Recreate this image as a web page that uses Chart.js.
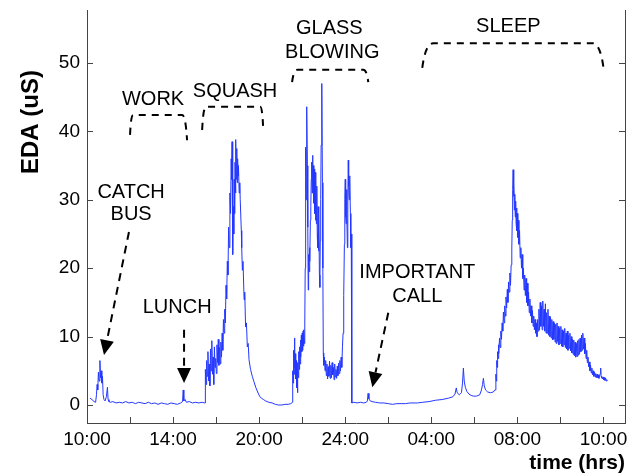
<!DOCTYPE html>
<html><head><meta charset="utf-8">
<script src="https://cdn.jsdelivr.net/npm/chart.js@4/dist/chart.umd.min.js"></script>
<style>html,body{margin:0;padding:0;background:#fff}canvas{display:block}</style>
</head><body>
<canvas id="c" width="635" height="475"></canvas>
<script>
// ---- data: [hours since 10:00, EDA (uS)] ----
const morningEDA = [[0.14,1.0],[0.23,0.8],[0.33,0.5],[0.40,0.4],[0.44,1.5],[0.47,3.0],[0.50,2.2],[0.53,4.8],[0.56,3.5],[0.60,6.5],[0.63,4.0],[0.66,5.0],[0.69,3.2],[0.72,4.2],[0.75,1.5],[0.79,0.8],[0.84,0.6],[0.90,1.2],[0.95,2.6],[0.98,0.8],[1.02,0.5],[1.10,0.4],[1.2,0.5],[1.35,0.3],[1.5,0.4],[1.65,0.3],[1.8,0.5],[1.95,0.3],[2.1,0.4],[2.25,0.2],[2.4,0.4],[2.55,0.3],[2.7,0.2],[2.85,0.4],[3.0,0.2],[3.15,0.3],[3.3,0.1],[3.45,0.3],[3.6,0.2],[3.75,0.1],[3.9,0.3],[4.05,0.2],[4.2,0.1],[4.35,0.3],[4.44,0.5],[4.47,2.2],[4.50,0.6],[4.56,0.8],[4.62,0.4],[4.75,0.5],[4.9,0.3],[5.05,0.4],[5.2,0.3],[5.35,0.4],[5.47,0.3]];
const squashEDA = [[5.49,0.3],[5.50,5.2],[5.53,3.0],[5.56,6.5],[5.59,4.2],[5.62,7.8],[5.65,3.5],[5.68,6.0],[5.71,2.8],[5.74,8.2],[5.77,5.0],[5.80,9.4],[5.83,4.5],[5.86,7.0],[5.89,3.0],[5.92,8.5],[5.95,5.5],[5.98,6.8],[6.01,4.6],[6.04,8.8],[6.07,6.2],[6.10,9.6],[6.13,5.8],[6.16,8.4],[6.19,6.0],[6.22,9.2],[6.25,7.0],[6.28,10.5],[6.31,8.0],[6.34,12.5],[6.37,10.5],[6.40,14.0],[6.43,12.0],[6.46,17.5],[6.49,15.5],[6.52,21.0],[6.55,19.0],[6.58,26.0],[6.61,23.0],[6.64,31.0],[6.67,28.0],[6.70,36.0],[6.72,33.0],[6.74,38.5],[6.76,30.0],[6.78,22.0],[6.80,29.0],[6.82,25.0],[6.84,33.0],[6.86,28.0],[6.88,35.5],[6.90,31.0],[6.92,38.8],[6.94,33.0],[6.96,37.5],[6.98,32.5],[7.00,36.0],[7.02,33.5],[7.04,35.0],[7.07,31.0],[7.10,32.5],[7.12,30.0],[7.17,25.5],[7.19,23.0],[7.22,19.7],[7.25,21.0],[7.30,15.4],[7.33,16.5],[7.37,11.4],[7.41,12.0],[7.45,8.5],[7.49,9.0],[7.53,6.6],[7.60,5.2],[7.68,4.2],[7.76,3.4],[7.84,2.6],[7.93,1.9],[8.02,1.3],[8.10,1.0],[8.20,0.8],[8.30,0.6],[8.45,0.4],[8.60,0.3],[8.75,0.1],[8.90,0.0],[9.05,0.0],[9.20,0.1],[9.35,0.1],[9.47,0.2]];
const glassEDA = [[9.52,0.3],[9.55,0.4],[9.56,5.0],[9.58,3.2],[9.60,8.0],[9.62,4.5],[9.64,9.8],[9.66,5.5],[9.68,7.5],[9.70,3.8],[9.72,6.5],[9.74,2.5],[9.76,5.5],[9.78,1.8],[9.80,6.2],[9.82,4.0],[9.84,7.8],[9.86,5.2],[9.88,8.5],[9.90,6.0],[9.92,9.5],[9.94,7.0],[9.96,10.2],[9.98,7.8],[10.00,10.5],[10.02,8.0],[10.04,10.8],[10.06,8.6],[10.08,11.0],[10.10,9.0],[10.12,12.0],[10.14,20.0],[10.16,37.7],[10.18,30.0],[10.20,41.0],[10.22,43.6],[10.24,35.0],[10.26,26.0],[10.28,16.8],[10.30,22.0],[10.32,19.5],[10.34,23.0],[10.36,21.0],[10.38,27.0],[10.40,29.0],[10.42,33.0],[10.44,35.5],[10.46,31.0],[10.48,36.5],[10.50,31.0],[10.52,35.0],[10.54,29.5],[10.56,34.5],[10.58,28.0],[10.60,34.0],[10.62,27.0],[10.64,33.0],[10.66,26.5],[10.68,32.0],[10.70,25.0],[10.72,23.0],[10.74,29.0],[10.76,22.5],[10.78,28.0],[10.80,19.0],[10.82,17.2],[10.84,24.0],[10.86,30.0],[10.88,38.0],[10.90,44.0],[10.92,47.0],[10.94,32.5],[10.96,20.0],[10.98,7.6],[11.00,5.8],[11.03,7.0],[11.06,5.0],[11.09,6.5],[11.12,4.3],[11.15,6.0],[11.18,3.8],[11.21,5.6],[11.24,4.2],[11.27,6.4],[11.30,3.9],[11.33,5.8],[11.36,4.0],[11.39,6.2],[11.42,4.4],[11.45,5.5],[11.48,3.7],[11.51,6.0],[11.54,4.1],[11.57,5.2],[11.60,3.9],[11.63,5.7],[11.66,4.3],[11.69,6.1],[11.72,4.6],[11.75,6.5],[11.78,5.0],[11.81,7.0],[11.84,5.5],[11.87,8.5],[11.90,10.5],[11.93,16.0],[11.96,23.5],[11.98,30.0],[12.00,33.0],[12.02,27.5],[12.04,26.5],[12.06,31.5],[12.08,28.0],[12.10,23.0],[12.12,30.0],[12.14,35.8],[12.16,32.0],[12.18,30.0],[12.20,33.5],[12.22,33.0],[12.24,28.0],[12.26,23.0],[12.28,25.0],[12.30,12.0],[12.31,0.3]];
const eveningEDA = [[12.40,0.4],[12.55,0.3],[12.70,0.4],[12.85,0.3],[12.98,0.4],[13.03,0.6],[13.06,1.7],[13.10,0.9],[13.16,0.6],[13.25,0.5],[13.4,0.4],[13.6,0.3],[13.8,0.3],[14.0,0.2],[14.2,0.1],[14.4,0.2],[14.6,0.2],[14.8,0.2],[15.0,0.3],[15.2,0.3],[15.35,0.3],[15.6,0.4],[15.9,0.5],[16.2,0.7],[16.5,0.8],[16.8,1.0],[17.0,1.2],[17.1,1.6],[17.16,2.5],[17.2,1.8],[17.3,1.5],[17.4,1.8],[17.45,3.2],[17.49,5.4],[17.53,3.5],[17.58,2.6],[17.65,2.0],[17.75,1.6],[17.85,1.4],[17.95,1.3],[18.1,1.3],[18.25,1.5],[18.33,2.2],[18.38,3.0],[18.42,3.9],[18.46,2.8],[18.52,2.2],[18.62,1.9],[18.75,1.8],[18.88,1.9],[18.95,2.2]];
const sleepEDA = [[18.98,2.2],[19.00,4.5],[19.02,3.5],[19.04,6.5],[19.06,5.5],[19.08,7.8],[19.10,6.8],[19.12,8.8],[19.14,7.5],[19.17,9.8],[19.20,8.4],[19.23,10.8],[19.26,9.6],[19.29,12.0],[19.32,10.8],[19.35,13.6],[19.38,12.0],[19.41,14.5],[19.44,13.0],[19.47,15.8],[19.50,14.2],[19.53,16.9],[19.56,15.0],[19.59,18.0],[19.62,16.5],[19.65,19.3],[19.68,17.5],[19.71,20.5],[19.74,22.8],[19.76,27.0],[19.78,31.5],[19.80,34.4],[19.82,30.5],[19.84,32.5],[19.86,28.5],[19.88,30.8],[19.90,27.5],[19.92,29.8],[19.94,26.5],[19.96,28.8],[19.98,25.5],[20.00,28.0],[20.02,24.5],[20.04,27.0],[20.07,23.5],[20.10,25.5],[20.13,21.5],[20.16,23.0],[20.19,20.0],[20.22,22.0],[20.25,18.5],[20.28,20.0],[20.31,16.8],[20.34,19.0],[20.37,16.0],[20.40,18.5],[20.43,15.0],[20.46,17.8],[20.49,14.5],[20.52,16.5],[20.55,13.5],[20.58,15.5],[20.61,13.0],[20.64,14.5],[20.67,12.0],[20.70,13.8],[20.73,11.5],[20.76,13.0],[20.79,11.0],[20.82,12.5],[20.85,10.5],[20.88,12.0],[20.91,10.0],[20.94,12.5],[20.97,10.8],[21.00,14.0],[21.03,11.0],[21.06,15.0],[21.09,11.5],[21.12,14.5],[21.15,11.0],[21.18,15.2],[21.21,11.5],[21.24,14.0],[21.27,10.8],[21.30,14.8],[21.33,10.5],[21.36,13.5],[21.39,10.5],[21.42,14.0],[21.45,10.2],[21.48,13.0],[21.51,10.0],[21.54,12.8],[21.57,9.8],[21.60,12.5],[21.63,9.5],[21.66,12.2],[21.69,9.6],[21.72,12.0],[21.75,9.2],[21.78,11.8],[21.81,9.0],[21.84,12.0],[21.87,9.3],[21.90,11.5],[21.93,8.8],[21.96,11.2],[21.99,9.0],[22.02,11.5],[22.05,8.6],[22.08,11.0],[22.11,8.5],[22.14,10.8],[22.17,8.8],[22.20,11.2],[22.23,8.4],[22.26,10.5],[22.29,8.2],[22.32,10.8],[22.35,8.0],[22.38,10.2],[22.41,8.3],[22.44,10.5],[22.47,7.9],[22.50,10.0],[22.53,7.6],[22.56,9.6],[22.59,7.4],[22.62,9.5],[22.65,7.2],[22.68,9.2],[22.71,7.0],[22.74,9.0],[22.77,7.1],[22.80,9.4],[22.83,7.3],[22.86,9.6],[22.89,7.5],[22.92,9.8],[22.95,7.8],[22.98,10.2],[23.01,8.0],[23.04,10.5],[23.07,8.2],[23.10,9.8],[23.13,7.5],[23.16,9.0],[23.19,6.8],[23.22,8.0],[23.25,6.2],[23.28,7.0],[23.31,5.6],[23.34,6.3],[23.37,5.0],[23.40,5.8],[23.43,4.7],[23.46,5.4],[23.49,4.4],[23.52,5.0],[23.55,4.2],[23.58,4.8],[23.61,4.1],[23.64,4.6],[23.67,4.0],[23.70,4.5],[23.73,4.0],[23.76,4.4],[23.79,3.9],[23.82,4.3],[23.85,4.6],[23.87,5.4],[23.89,4.2],[23.92,4.0],[23.95,3.8],[23.98,4.1],[24.01,3.7],[24.04,4.0],[24.07,3.6],[24.10,3.9],[24.13,3.5],[24.16,3.7],[24.19,3.6]];

const xTickHours = [0,2,4,6,8,10,12,14,16,18,20,22,24];
const xTickLabels = ['10:00','','14:00','','20:00','','24:00','','04:00','','08:00','','10:00'];
const yTickValues = [0,10,20,30,40,50];

// annotations in data units (hours, uS)
const textNotes = [
  {t:'CATCH', h:2.05, v:31.1}, {t:'BUS', h:2.05, v:27.8},
  {t:'LUNCH', h:4.19, v:14.2},
  {t:'IMPORTANT', h:15.35, v:19.4}, {t:'CALL', h:15.35, v:15.8},
  {t:'WORK', h:3.07, v:44.6},
  {t:'SQUASH', h:6.88, v:45.8},
  {t:'GLASS', h:11.26, v:55.1}, {t:'BLOWING', h:11.4, v:51.6},
  {t:'SLEEP', h:19.58, v:55.3}
];
const brackets = [
  [[2.0,39.5],[2.14,42.4],[4.42,42.4],[4.65,38.7]],
  [[5.35,40.2],[5.53,43.6],[8.05,43.6],[8.19,40.2]],
  [[9.53,47.2],[9.77,49.0],[12.84,49.0],[13.07,47.2]],
  [[15.58,49.3],[16.09,52.9],[23.49,52.9],[24.0,49.3]]
];
const arrows = [
  [[1.95,25.3],[0.79,7.3]],
  [[4.51,11.0],[4.51,3.2]],
  [[14.0,13.5],[13.26,2.6]]
];

const FONT = "'Liberation Sans', Arial, Helvetica, sans-serif";
const allPoints = [].concat(morningEDA, squashEDA, glassEDA, eveningEDA, sleepEDA).map(p => ({x:p[0], y:p[1]}));

const decor = {
  id:'decor',
  afterDatasetsDraw(chart){
    const {ctx, scales:{x, y}, chartArea:a} = chart;
    const X = v => x.getPixelForValue(v), Y = v => y.getPixelForValue(v);
    ctx.save();
    // right border
    ctx.strokeStyle = '#444'; ctx.lineWidth = 1; ctx.setLineDash([]);
    ctx.beginPath(); ctx.moveTo(a.right + 0.5, a.top); ctx.lineTo(a.right + 0.5, a.bottom); ctx.stroke();
    // inward ticks
    ctx.beginPath();
    yTickValues.forEach(v => {
      const py = Math.round(Y(v)) + 0.5;
      ctx.moveTo(a.left, py); ctx.lineTo(a.left + 6, py);
      ctx.moveTo(a.right, py); ctx.lineTo(a.right - 6, py);
    });
    xTickHours.forEach(h => {
      const px = Math.round(X(h)) + 0.5;
      ctx.moveTo(px, a.bottom); ctx.lineTo(px, a.bottom - 6);
    });
    ctx.stroke();

    // brackets
    ctx.strokeStyle = '#000'; ctx.lineWidth = 2; ctx.setLineDash([7,6]);
    brackets.forEach(b => {
      const [lb, lt, rt, rb] = b.map(p => [X(p[0]), Y(p[1])]);
      ctx.beginPath();
      ctx.moveTo(lb[0], lb[1]);
      ctx.quadraticCurveTo(lb[0] + (lt[0]-lb[0])*0.3, lt[1], lt[0], lt[1]);
      ctx.lineTo(rt[0], rt[1]);
      ctx.quadraticCurveTo(rb[0] - (rb[0]-rt[0])*0.3, rt[1], rb[0], rb[1]);
      ctx.stroke();
    });
    // arrows
    arrows.forEach(ar => {
      const sx = X(ar[0][0]), sy = Y(ar[0][1]), tx = X(ar[1][0]), ty = Y(ar[1][1]);
      const dx = tx - sx, dy = ty - sy, L = Math.hypot(dx, dy), ux = dx/L, uy = dy/L;
      const hl = 15, hw = 7;
      const bx = tx - ux*hl, by = ty - uy*hl;
      ctx.setLineDash([8,6]);
      ctx.beginPath(); ctx.moveTo(sx, sy); ctx.lineTo(bx, by); ctx.stroke();
      ctx.setLineDash([]);
      ctx.fillStyle = '#000';
      ctx.beginPath(); ctx.moveTo(tx, ty);
      ctx.lineTo(bx - uy*hw, by + ux*hw); ctx.lineTo(bx + uy*hw, by - ux*hw);
      ctx.closePath(); ctx.fill();
    });
    // text notes
    ctx.fillStyle = '#000'; ctx.font = '20px ' + FONT;
    ctx.textAlign = 'center'; ctx.textBaseline = 'middle';
    textNotes.forEach(n => ctx.fillText(n.t, X(n.h), Y(n.v)));
    // axis titles
    ctx.font = 'bold 21px ' + FONT;
    ctx.textAlign = 'right'; ctx.textBaseline = 'middle';
    ctx.fillText('time (hrs)', a.right, 463);
    ctx.save();
    ctx.translate(31, 122); ctx.rotate(-Math.PI/2);
    ctx.font = 'bold 24px ' + FONT; ctx.textAlign = 'center';
    ctx.fillText('EDA (uS)', 0, 0);
    ctx.restore();
    ctx.restore();
  }
};

new Chart(document.getElementById('c'), {
  type: 'line',
  data: { datasets: [{ data: allPoints, borderColor: 'rgb(35,55,255)', borderWidth: 1, pointRadius: 0, tension: 0, fill: false }] },
  options: {
    responsive: false, animation: false, devicePixelRatio: 1,
    layout: { padding: { left: 0, right: 10, top: 10, bottom: 0 } },
    plugins: { legend: { display: false }, tooltip: { enabled: false } },
    scales: {
      x: {
        type: 'linear', min: 0, max: 25,
        afterBuildTicks: s => { s.ticks = xTickHours.map(v => ({value: v})); },
        afterFit: s => { s.height = 52; s.paddingLeft = 0; s.paddingRight = 0; },
        grid: { display: false, drawTicks: false },
        border: { display: true, color: '#444', width: 1 },
        ticks: { autoSkip: false, maxRotation: 0, padding: 5, color: '#000', font: { family: FONT, size: 19 },
          callback: v => xTickLabels[xTickHours.indexOf(v)] || '' }
      },
      y: {
        min: -2.63, max: 57.75,
        afterBuildTicks: s => { s.ticks = yTickValues.map(v => ({value: v})); },
        afterFit: s => { s.width = 87; s.paddingTop = 0; s.paddingBottom = 0; },
        grid: { display: false, drawTicks: false },
        border: { display: true, color: '#444', width: 1 },
        ticks: { padding: 7, color: '#000', font: { family: FONT, size: 19 } }
      }
    }
  },
  plugins: [decor]
});
</script></body></html>
